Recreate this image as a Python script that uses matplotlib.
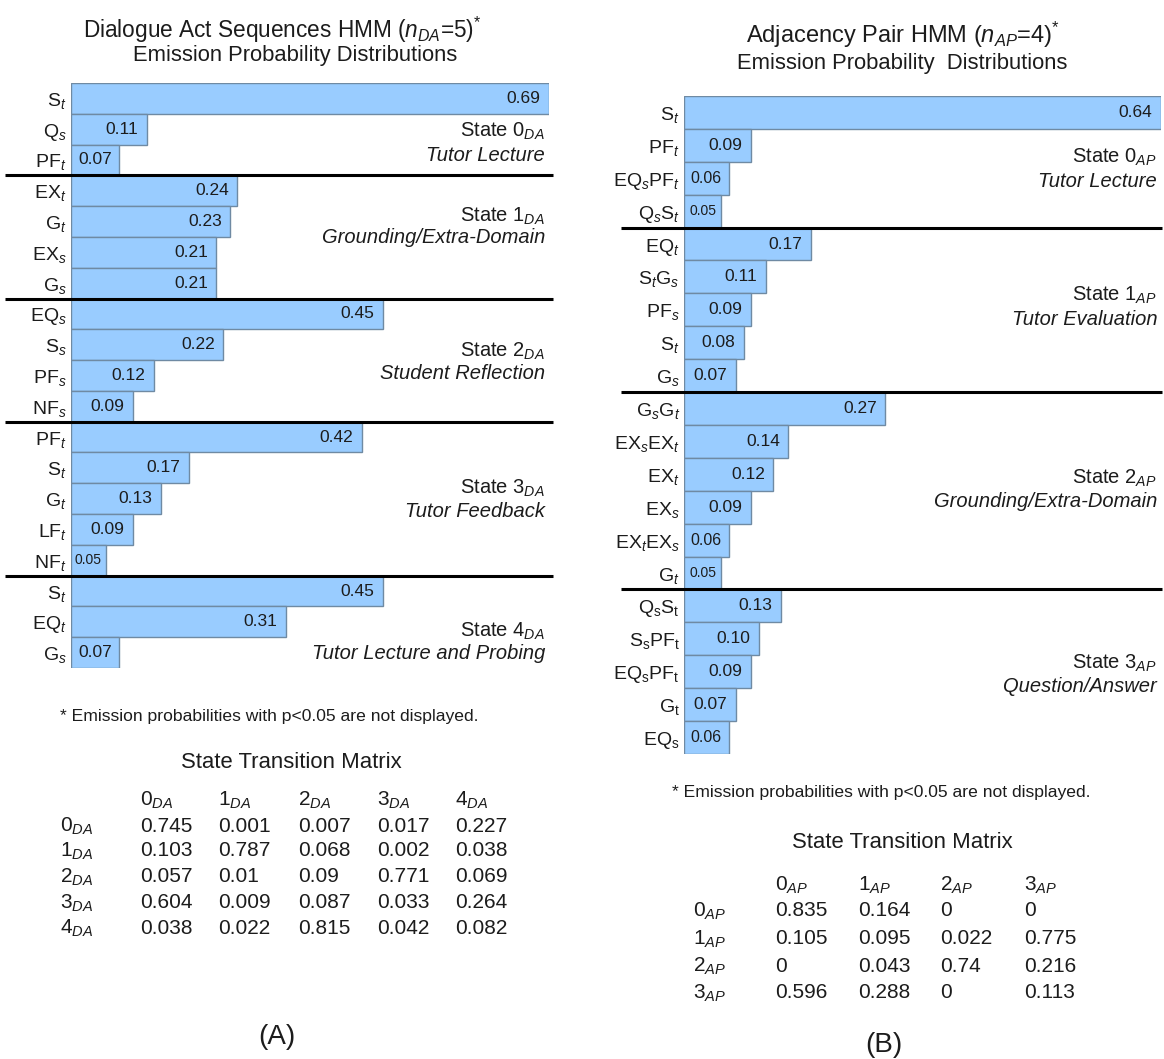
import matplotlib
matplotlib.use("Agg")
import matplotlib.pyplot as plt
from matplotlib.transforms import blended_transform_factory

plt.rcParams["font.family"] = ["Liberation Sans", "DejaVu Sans"]
plt.rcParams["mathtext.fontset"] = "custom"
plt.rcParams["mathtext.rm"] = "Liberation Sans"
plt.rcParams["mathtext.it"] = "Liberation Sans:italic"
plt.rcParams["mathtext.bf"] = "Liberation Sans:bold"

# ---------------- data: dialogue act HMM (n=5) ----------------
da_state_names = ["Tutor Lecture", "Grounding/Extra-Domain", "Student Reflection",
                  "Tutor Feedback", "Tutor Lecture and Probing"]
da_labels = [
    ["S$_{t}$", "Q$_{s}$", "PF$_{t}$"],
    ["EX$_{t}$", "G$_{t}$", "EX$_{s}$", "G$_{s}$"],
    ["EQ$_{s}$", "S$_{s}$", "PF$_{s}$", "NF$_{s}$"],
    ["PF$_{t}$", "S$_{t}$", "G$_{t}$", "LF$_{t}$", "NF$_{t}$"],
    ["S$_{t}$", "EQ$_{t}$", "G$_{s}$"],
]
da_values = [
    [0.69, 0.11, 0.07],
    [0.24, 0.23, 0.21, 0.21],
    [0.45, 0.22, 0.12, 0.09],
    [0.42, 0.17, 0.13, 0.09, 0.05],
    [0.45, 0.31, 0.07],
]
da_transition = [
    [0.745, 0.001, 0.007, 0.017, 0.227],
    [0.103, 0.787, 0.068, 0.002, 0.038],
    [0.057, 0.01, 0.09, 0.771, 0.069],
    [0.604, 0.009, 0.087, 0.033, 0.264],
    [0.038, 0.022, 0.815, 0.042, 0.082],
]

# ---------------- data: adjacency pair HMM (n=4) ----------------
ap_state_names = ["Tutor Lecture", "Tutor Evaluation", "Grounding/Extra-Domain",
                  "Question/Answer"]
ap_labels = [
    ["S$_{t}$", "PF$_{t}$", "EQ$_{s}$PF$_{t}$", "Q$_{s}$S$_{t}$"],
    ["EQ$_{t}$", "S$_{t}$G$_{s}$", "PF$_{s}$", "S$_{t}$", "G$_{s}$"],
    ["G$_{s}$G$_{t}$", "EX$_{s}$EX$_{t}$", "EX$_{t}$", "EX$_{s}$",
     "EX$_{t}$EX$_{s}$", "G$_{t}$"],
    ["Q$_\\mathrm{s}$S$_\\mathrm{t}$", "S$_\\mathrm{s}$PF$_\\mathrm{t}$",
     "EQ$_\\mathrm{s}$PF$_\\mathrm{t}$", "G$_\\mathrm{t}$", "EQ$_\\mathrm{s}$"],
]
ap_values = [
    [0.64, 0.09, 0.06, 0.05],
    [0.17, 0.11, 0.09, 0.08, 0.07],
    [0.27, 0.14, 0.12, 0.09, 0.06, 0.05],
    [0.13, 0.10, 0.09, 0.07, 0.06],
]
ap_transition = [
    [0.835, 0.164, 0, 0],
    [0.105, 0.095, 0.022, 0.775],
    [0, 0.043, 0.74, 0.216],
    [0.596, 0.288, 0, 0.113],
]

W, H = 1164, 1059
fig = plt.figure(figsize=(W / 100, H / 100), dpi=100)
TXT = "#1c1c1c"
BAR = "#99ccff"
EDGE = "#6f8aa3"


def fx(x):
    return x / W


def fy(y):
    return 1 - y / H


def panel(left, right, top, bottom, labels, values, names, tag,
          sep_x, name_rows):
    ax = fig.add_axes([fx(left), fy(bottom), fx(right - left), (bottom - top) / H])
    flat_lab = [l for g in labels for l in g]
    flat_val = [v for g in values for v in g]
    n = len(flat_val)
    rows = list(range(n))
    ax.barh(rows, flat_val, height=1.0, color=BAR, edgecolor=EDGE, linewidth=1.0)
    ax.set_xlim(0, max(flat_val))
    ax.set_ylim(n - 0.5, -0.5)
    ax.set_yticks(rows)
    ax.set_yticklabels(flat_lab, fontsize=14, color=TXT)
    ax.tick_params(axis="y", length=0, pad=3)
    ax.set_xticks([])
    for s in ax.spines.values():
        s.set_visible(False)
    xmax = max(flat_val)
    for r, v in zip(rows, flat_val):
        if v <= 0.05:
            fs = 10
        elif v <= 0.06:
            fs = 11.5
        else:
            fs = 12.5
        if v <= 0.07:
            ax.text(v / 2, r, f"{v:.2f}", ha="center", va="center",
                    fontsize=fs, color=TXT)
        else:
            ax.text(v - xmax * 0.018, r, f"{v:.2f}", ha="right", va="center",
                    fontsize=fs, color=TXT)
    # group separators
    tr = blended_transform_factory(ax.transAxes, ax.transData)
    x0 = (sep_x[0] - left) / (right - left)
    x1 = (sep_x[1] - left) / (right - left)
    start = 0
    for gi, g in enumerate(values):
        end = start + len(g)
        if gi < len(values) - 1:
            ax.plot([x0, x1], [end - 0.5, end - 0.5], color="black", lw=2.2,
                    transform=tr, clip_on=False, solid_capstyle="butt")
        r1, r2 = name_rows[gi]
        ax.text(0.992, start + r1, f"State {gi}$_{{{tag}}}$", transform=tr,
                ha="right", va="center", fontsize=14.5, color=TXT)
        ax.text(0.992, start + r2, names[gi], transform=tr, ha="right",
                va="center", fontsize=14.5, style="italic", color=TXT)
        start = end
    return ax


# left panel
fig.text(fx(282), fy(30), "Dialogue Act Sequences HMM ($n_{DA}$=5)$^{*}$",
         ha="center", va="center", fontsize=16.3, color=TXT)
fig.text(fx(295), fy(55), "Emission Probability Distributions",
         ha="center", va="center", fontsize=15.8, color=TXT)
panel(71, 549, 83, 668, da_labels, da_values, da_state_names, "DA",
      (5, 553),
      [(1.06, 1.84), (0.82, 1.53), (1.23, 1.92), (1.68, 2.43), (1.32, 2.04)])

# right panel
fig.text(fx(903), fy(35), "Adjacency Pair HMM ($n_{AP}$=4)$^{*}$",
         ha="center", va="center", fontsize=17, color=TXT)
fig.text(fx(902), fy(63), "Emission Probability  Distributions",
         ha="center", va="center", fontsize=15.8, color=TXT)
panel(684, 1161, 96, 754, ap_labels, ap_values, ap_state_names, "AP",
      (621, 1162),
      [(1.35, 2.11), (1.55, 2.28), (2.11, 2.84), (1.73, 2.46)])

NOTE = "* Emission probabilities with p<0.05 are not displayed."


def matrix(cx_title, y_title, x_rows, x_cols, y_head, y_rows, mat, tag,
           note_xy, letter_xy, letter):
    fig.text(fx(note_xy[0]), fy(note_xy[1]), NOTE, ha="left", va="center",
             fontsize=12.6, color=TXT)
    fig.text(fx(cx_title), fy(y_title), "State Transition Matrix",
             ha="center", va="center", fontsize=15.9, color=TXT)
    for j, xc in enumerate(x_cols):
        fig.text(fx(xc), fy(y_head), f"{j}$_{{{tag}}}$", ha="left",
                 va="center", fontsize=15, color=TXT)
    for i, (yr, row) in enumerate(zip(y_rows, mat)):
        fig.text(fx(x_rows), fy(yr), f"{i}$_{{{tag}}}$", ha="left",
                 va="center", fontsize=15, color=TXT)
        for xc, v in zip(x_cols, row):
            fig.text(fx(xc), fy(yr), f"{v:g}", ha="left", va="center",
                     fontsize=15, color=TXT)
    fig.text(fx(letter_xy[0]), fy(letter_xy[1]), letter, ha="center",
             va="center", fontsize=20, color=TXT)


matrix(291, 762, 60, [140, 218, 298, 377, 455], 800,
       [826, 851, 877, 903, 928], da_transition, "DA", (60, 716), (277, 1037), "(A)")
matrix(902, 842, 693, [775, 858, 940, 1024], 885,
       [911, 939, 966, 993], ap_transition, "AP", (672, 792), (884, 1045), "(B)")

fig.savefig("out.png", dpi=100, facecolor="white")
